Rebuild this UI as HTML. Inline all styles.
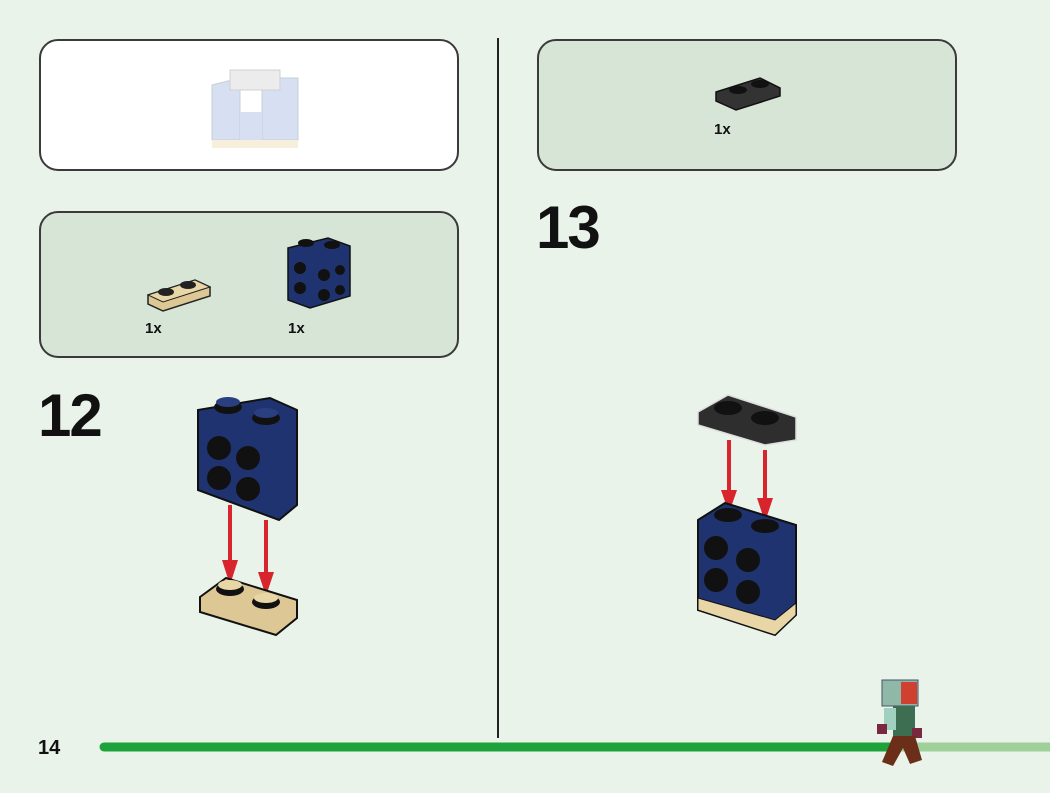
<!DOCTYPE html>
<html><head><meta charset="utf-8"><style>
html,body{margin:0;padding:0;background:#e9f3ea;}
svg{display:block}
text{font-family:"Liberation Sans",sans-serif;font-weight:bold;fill:#111}
</style></head><body>
<svg width="1050" height="793" viewBox="0 0 1050 793" xmlns="http://www.w3.org/2000/svg">
<rect width="1050" height="793" fill="#e9f3ea"/>
<!-- panels -->
<rect x="40" y="40" width="418" height="130" rx="18" fill="#ffffff" stroke="#3a3a3a" stroke-width="2"/>
<rect x="40" y="212" width="418" height="145" rx="18" fill="#d7e5d7" stroke="#3a3a3a" stroke-width="2"/>
<rect x="538" y="40" width="418" height="130" rx="18" fill="#d7e5d7" stroke="#3a3a3a" stroke-width="2"/>
<line x1="498" y1="38" x2="498" y2="738" stroke="#222" stroke-width="2"/>

<!-- faded legs in top-left -->
<g opacity="0.55">
<polygon points="212,85 240,78 240,140 212,140" fill="#b8c8e8" stroke="#9aa" stroke-width="1"/>
<polygon points="262,78 298,78 298,140 262,140" fill="#b8c8e8" stroke="#9aa" stroke-width="1"/>
<rect x="240" y="112" width="22" height="28" fill="#b8c8e8"/>
<rect x="212" y="140" width="86" height="8" fill="#efe3c0"/>
<rect x="230" y="70" width="50" height="20" fill="#ddd" stroke="#aaa"/>
</g>

<!-- parts: tan plate -->
<polygon points="148,295 195,280 210,287 210,296 163,311 148,304" fill="#dcc795" stroke="#222" stroke-width="1.5"/>
<polygon points="148,295 195,280 210,287 163,302" fill="#e9d6a6" stroke="#222" stroke-width="1"/>
<ellipse cx="166" cy="292" rx="8" ry="4" fill="#222"/><ellipse cx="188" cy="285" rx="8" ry="4" fill="#222"/>
<text x="145" y="333" font-size="15">1x</text>
<!-- parts: blue brick -->
<polygon points="288,248 328,238 350,246 350,296 310,308 288,300" fill="#1f3370" stroke="#111" stroke-width="1.5"/>
<ellipse cx="306" cy="243" rx="8" ry="4" fill="#111"/><ellipse cx="332" cy="245" rx="8" ry="4" fill="#111"/>
<circle cx="300" cy="268" r="6" fill="#111"/><circle cx="324" cy="275" r="6" fill="#111"/>
<circle cx="300" cy="288" r="6" fill="#111"/><circle cx="324" cy="295" r="6" fill="#111"/>
<circle cx="340" cy="270" r="5" fill="#111"/><circle cx="340" cy="290" r="5" fill="#111"/>
<text x="288" y="333" font-size="15">1x</text>

<!-- step 12 -->
<text x="38" y="436" font-size="60" letter-spacing="-2">12</text>
<polygon points="198,410 270,398 297,410 297,505 279,520 198,490" fill="#1f3370" stroke="#111" stroke-width="2"/>
<ellipse cx="228" cy="407" rx="14" ry="7" fill="#111"/><ellipse cx="266" cy="418" rx="14" ry="7" fill="#111"/>
<ellipse cx="228" cy="402" rx="12" ry="5" fill="#2a3f80"/><ellipse cx="266" cy="413" rx="12" ry="5" fill="#2a3f80"/>
<circle cx="219" cy="448" r="12" fill="#111"/><circle cx="248" cy="458" r="12" fill="#111"/>
<circle cx="219" cy="478" r="12" fill="#111"/><circle cx="248" cy="489" r="12" fill="#111"/>
<line x1="230" y1="505" x2="230" y2="568" stroke="#d8242c" stroke-width="4"/>
<polygon points="222,560 238,560 230,585" fill="#d8242c"/>
<line x1="266" y1="520" x2="266" y2="578" stroke="#d8242c" stroke-width="4"/>
<polygon points="258,572 274,572 266,596" fill="#d8242c"/>
<polygon points="200,597 226,578 297,600 297,618 276,635 200,612" fill="#dcc795" stroke="#111" stroke-width="2"/>
<ellipse cx="230" cy="589" rx="14" ry="7" fill="#111"/><ellipse cx="266" cy="602" rx="14" ry="7" fill="#111"/>
<ellipse cx="230" cy="585" rx="12" ry="5" fill="#e9d6a6"/><ellipse cx="266" cy="598" rx="12" ry="5" fill="#e9d6a6"/>

<!-- parts right: dark plate -->
<polygon points="716,92 760,78 780,88 780,96 736,110 716,101" fill="#333" stroke="#111" stroke-width="1.5"/>
<ellipse cx="738" cy="90" rx="9" ry="4" fill="#111"/><ellipse cx="760" cy="84" rx="9" ry="4" fill="#111"/>
<text x="714" y="134" font-size="15">1x</text>

<!-- step 13 -->
<text x="536" y="248" font-size="60" letter-spacing="-2">13</text>
<polygon points="698,412 728,395 796,417 796,440 765,445 698,425" fill="#2e2e2e" stroke="#ddd" stroke-width="1.5"/>
<ellipse cx="728" cy="408" rx="14" ry="7" fill="#111"/><ellipse cx="765" cy="418" rx="14" ry="7" fill="#111"/>
<line x1="729" y1="440" x2="729" y2="495" stroke="#d8242c" stroke-width="4"/>
<polygon points="721,490 737,490 729,513" fill="#d8242c"/>
<line x1="765" y1="450" x2="765" y2="505" stroke="#d8242c" stroke-width="4"/>
<polygon points="757,498 773,498 765,522" fill="#d8242c"/>
<polygon points="698,520 725,503 796,525 796,615 775,635 698,610" fill="#1f3370" stroke="#111" stroke-width="2"/>
<polygon points="698,598 775,620 796,603 796,615 775,635 698,610" fill="#e8d6a6" stroke="#111" stroke-width="1"/>
<ellipse cx="728" cy="515" rx="14" ry="7" fill="#111"/><ellipse cx="765" cy="526" rx="14" ry="7" fill="#111"/>
<circle cx="716" cy="548" r="12" fill="#111"/><circle cx="748" cy="560" r="12" fill="#111"/>
<circle cx="716" cy="580" r="12" fill="#111"/><circle cx="748" cy="592" r="12" fill="#111"/>

<!-- footer -->
<text x="38" y="754" font-size="20">14</text>
<line x1="890" y1="747" x2="1050" y2="747" stroke="#9fd09a" stroke-width="9"/>
<line x1="104" y1="747" x2="892" y2="747" stroke="#1ea33c" stroke-width="9" stroke-linecap="round"/>
<!-- character -->
<rect x="882" y="680" width="36" height="26" fill="#8fb8a8" stroke="#456" stroke-width="1"/>
<rect x="901" y="682" width="16" height="22" fill="#d04030"/>
<rect x="893" y="706" width="22" height="30" fill="#3e6e52"/>
<rect x="884" y="708" width="12" height="22" fill="#9fd0c0"/>
<rect x="877" y="724" width="10" height="10" fill="#7a2840"/>
<rect x="912" y="728" width="10" height="10" fill="#7a2840"/>
<polygon points="893,736 915,736 922,760 910,764 903,748 893,766 882,762" fill="#6b2e18"/>
</svg>
</body></html>
